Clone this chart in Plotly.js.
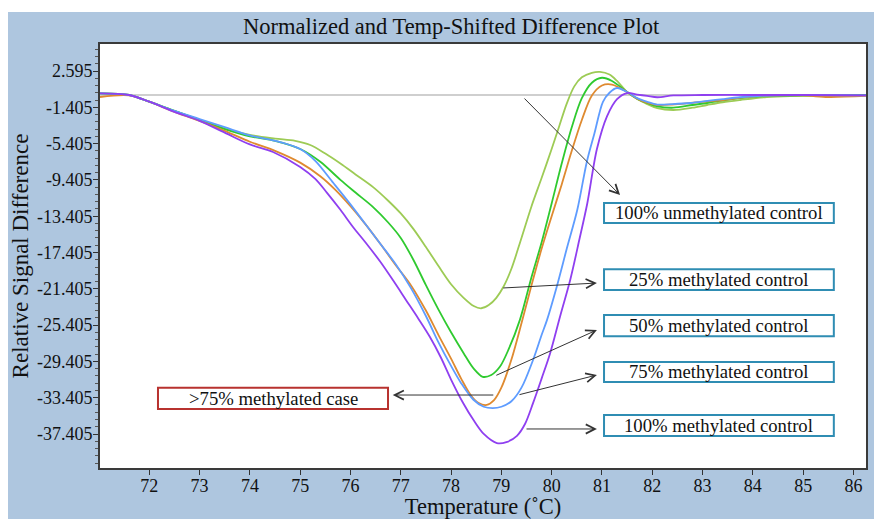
<!DOCTYPE html>
<html>
<head>
<meta charset="utf-8">
<script src="https://cdn.plot.ly/plotly-3.0.1.min.js"></script>
<style>
  html, body { margin: 0; padding: 0; background: #ffffff; width: 874px; height: 519px; overflow: hidden; }
  #chart { position: absolute; left: 8px; top: 12px; width: 866px; height: 507px; }
</style>
</head>
<body>
<div id="chart"></div>
<script>
// ---- data ----
const seriesNames = ["100% unmethylated control", "25% methylated control", "50% methylated control", "75% methylated control", "100% methylated control"];

const tempUnmeth = [71.02, 71.6, 72.0, 72.5, 73.0, 73.5, 74.0, 74.5, 74.9, 75.2, 75.5, 75.8, 76.1, 76.45, 76.75, 77.0, 77.25, 77.5, 77.75, 78.0, 78.25, 78.45, 78.6, 78.75, 78.9, 79.05, 79.2, 79.4, 79.6, 79.8, 80.0, 80.15, 80.3, 80.45, 80.6, 80.8, 80.96, 81.15, 81.3, 81.5, 81.7, 81.9, 82.1, 82.42, 82.8, 83.09, 83.4, 83.75, 84.28, 84.74, 85.33, 86.25];
const valUnmeth  = [0.14, -0.05, -0.79, -1.8, -2.8, -3.75, -4.45, -4.85, -5.1, -5.56, -6.5, -7.6, -8.8, -10.2, -11.7, -13.1, -14.8, -16.8, -18.9, -20.9, -22.4, -23.3, -23.55, -23.2, -22.4, -21.1, -19.2, -15.8, -12.3, -9.2, -6.0, -3.5, -1.0, 0.9, 1.9, 2.4, 2.5, 2.2, 1.5, 0.28, -0.5, -1.05, -1.5, -1.7, -1.45, -1.15, -0.85, -0.6, -0.27, -0.16, -0.15, -0.1];

const temp25 = [71.02, 71.6, 72.0, 72.5, 73.0, 73.5, 74.0, 74.5, 75.0, 75.4, 75.8, 76.1, 76.45, 76.75, 77.0, 77.25, 77.5, 77.75, 78.0, 78.25, 78.45, 78.63, 78.8, 78.97, 79.15, 79.37, 79.6, 79.8, 80.0, 80.2, 80.4, 80.6, 80.8, 81.0, 81.2, 81.5, 81.7, 81.9, 82.1, 82.42, 82.8, 83.09, 83.4, 83.75, 84.28, 85.0, 86.25];
const val25  = [0.14, -0.05, -0.79, -1.8, -2.8, -3.8, -4.6, -5.1, -6.0, -7.4, -9.4, -10.8, -12.4, -14.1, -15.8, -18.2, -21.0, -23.7, -26.2, -28.5, -30.2, -31.1, -30.9, -30.0, -28.0, -24.8, -20.1, -16.3, -12.0, -7.6, -3.6, -0.4, 1.3, 1.85, 1.5, 0.28, -0.45, -0.93, -1.3, -1.45, -1.15, -0.93, -0.65, -0.38, -0.16, -0.1, -0.05];

const temp50 = [71.02, 71.6, 72.0, 72.5, 73.0, 73.5, 74.0, 74.5, 75.0, 75.4, 75.7, 76.0, 76.3, 76.6, 76.9, 77.2, 77.5, 77.75, 78.0, 78.2, 78.4, 78.55, 78.71, 78.85, 79.0, 79.2, 79.4, 79.6, 79.8, 80.0, 80.2, 80.4, 80.6, 80.8, 81.0, 81.2, 81.5, 81.7, 81.9, 82.1, 82.4, 82.76, 83.1, 83.41, 83.75, 84.09, 85.0, 85.5, 86.25];
const val50  = [-0.27, -0.1, -0.79, -1.9, -2.9, -4.0, -5.2, -6.2, -7.5, -9.0, -10.5, -12.3, -14.3, -16.5, -18.8, -21.0, -23.8, -26.5, -29.1, -31.3, -33.2, -34.0, -34.2, -33.7, -32.3, -29.2, -25.2, -21.0, -17.0, -13.4, -9.9, -6.2, -2.8, -0.1, 1.0, 1.1, 0.28, -0.45, -0.9, -1.15, -1.1, -0.93, -0.75, -0.6, -0.35, -0.16, -0.1, -0.27, -0.15];

const temp75 = [71.02, 71.6, 72.0, 72.5, 73.0, 73.5, 74.0, 74.6, 75.0, 75.3, 75.66, 76.0, 76.3, 76.6, 76.9, 77.2, 77.5, 77.75, 78.0, 78.2, 78.44, 78.65, 78.83, 79.0, 79.2, 79.4, 79.63, 79.8, 79.91, 80.1, 80.3, 80.51, 80.7, 80.85, 81.02, 81.15, 81.3, 81.5, 81.7, 81.9, 82.1, 82.4, 82.76, 83.1, 83.41, 83.75, 84.09, 85.0, 86.25];
const val75  = [0.14, -0.05, -0.79, -1.8, -2.7, -3.6, -4.5, -5.23, -6.0, -7.3, -9.75, -12.1, -14.3, -16.5, -18.7, -21.3, -24.4, -27.3, -29.9, -31.8, -33.6, -34.4, -34.55, -34.4, -33.8, -32.3, -29.25, -26.5, -24.8, -21.2, -17.0, -12.7, -7.4, -4.3, -0.8, 0.2, 0.72, 0.28, -0.4, -0.8, -1.1, -1.05, -0.93, -0.7, -0.5, -0.3, -0.16, -0.05, -0.1];

const temp100 = [71.02, 71.6, 72.0, 72.5, 73.0, 73.5, 74.0, 74.46, 75.0, 75.3, 75.53, 75.8, 76.05, 76.3, 76.59, 76.85, 77.1, 77.35, 77.58, 77.8, 78.0, 78.24, 78.45, 78.65, 78.91, 79.1, 79.31, 79.47, 79.63, 79.8, 79.97, 80.17, 80.37, 80.55, 80.71, 80.9, 81.1, 81.3, 81.5, 81.7, 81.9, 82.1, 82.42, 83.0, 84.0, 85.0, 86.25];
const val100  = [0.14, -0.05, -0.79, -1.9, -2.9, -4.2, -5.5, -6.33, -7.98, -9.3, -10.8, -12.7, -14.59, -16.3, -18.4, -20.5, -22.6, -24.7, -26.72, -29.0, -31.4, -33.99, -35.9, -37.4, -38.4, -38.3, -37.6, -36.3, -34.0, -31.3, -28.5, -24.4, -20.4, -16.0, -11.95, -6.0, -2.4, -0.5, 0.17, 0.0, -0.15, -0.3, -0.1, -0.05, -0.05, -0.05, -0.1];

const xTickVals = [72, 73, 74, 75, 76, 77, 78, 79, 80, 81, 82, 83, 84, 85, 86];
const yTickLabels = ["2.595", "-1.405", "-5.405", "-9.405", "-13.405", "-17.405", "-21.405", "-25.405", "-29.405", "-33.405", "-37.405"];

// annotation labels
const caseLabel = ">75% methylated case";

// ---- styling ----
const FONT = "Liberation Serif, Times New Roman, serif";
const colors = ["#9dcb55", "#2fca2f", "#df8a30", "#5e9cff", "#8f3ff0"];
const temps = [tempUnmeth, temp25, temp50, temp75, temp100];
const vals = [valUnmeth, val25, val50, val75, val100];

const traces = seriesNames.map((name, i) => ({
  type: "scatter",
  mode: "lines",
  name: name,
  x: temps[i],
  y: vals[i],
  line: { color: colors[i], width: 1.8, shape: "spline", smoothing: 0.9 },
  hoverinfo: "skip"
}));

// label boxes (paper coordinates) and arrows (data coordinates)
const boxColor = "#2f8db3";
const boxes = [
  { text: seriesNames[0], x0: 0.658, x1: 0.958, y0: 0.578, y1: 0.625, color: boxColor },
  { text: seriesNames[1], x0: 0.658, x1: 0.958, y0: 0.420, y1: 0.469, color: boxColor },
  { text: seriesNames[2], x0: 0.658, x1: 0.958, y0: 0.311, y1: 0.361, color: boxColor },
  { text: seriesNames[3], x0: 0.658, x1: 0.958, y0: 0.203, y1: 0.250, color: boxColor },
  { text: seriesNames[4], x0: 0.658, x1: 0.958, y0: 0.0755, y1: 0.125, color: boxColor },
  { text: caseLabel, x0: 0.0757, x1: 0.376, y0: 0.139, y1: 0.189, color: "#b8322f" }
];

const arrows = [
  { x: 81.36, y: -11.07, ax: 79.43, ay: -0.27 },
  { x: 80.90, y: -20.77, ax: 79.01, ay: -21.32 },
  { x: 80.90, y: -25.94, ax: 78.87, ay: -31.01 },
  { x: 80.90, y: -30.90, ax: 79.33, ay: -33.11 },
  { x: 80.90, y: -36.85, ax: 79.47, ay: -36.85 },
  { x: 76.84, y: -33.11, ax: 78.87, ay: -33.11 }
];

const shapes = boxes.map(b => ({
  type: "rect", xref: "paper", yref: "paper",
  x0: b.x0, x1: b.x1, y0: b.y0, y1: b.y1,
  line: { color: b.color, width: 2 }, fillcolor: "#ffffff", layer: "above"
}));

const annotations = boxes.map(b => ({
  xref: "paper", yref: "paper",
  x: (b.x0 + b.x1) / 2, y: (b.y0 + b.y1) / 2,
  xanchor: "center", yanchor: "middle",
  text: b.text, showarrow: false,
  font: { family: FONT, size: 18.7, color: "#111111" }
})).concat(arrows.map(a => ({
  xref: "x", yref: "y", axref: "x", ayref: "y",
  x: a.x, y: a.y, ax: a.ax, ay: a.ay,
  text: "", showarrow: true, arrowhead: 5, arrowsize: 1.8, arrowwidth: 1,
  arrowcolor: "#333333", standoff: 0, startstandoff: 0
})));

const layout = {
  width: 866, height: 507,
  paper_bgcolor: "#aec6df",
  plot_bgcolor: "#ffffff",
  margin: { l: 92, r: 8, t: 32, b: 51 },
  showlegend: false,
  font: { family: FONT, color: "#111111" },
  title: {
    text: "Normalized and Temp-Shifted Difference Plot",
    font: { family: FONT, size: 22.5, color: "#111111" },
    xref: "container", yref: "container",
    x: 0.5116, y: 0.972, xanchor: "center", yanchor: "middle"
  },
  xaxis: {
    range: [71.02, 86.25],
    tickmode: "array", tickvals: xTickVals,
    ticks: "outside", ticklen: 5, tickwidth: 1, tickcolor: "#333333",
    ticklabelstandoff: -5,
    showline: true, linecolor: "#3a3a3a", linewidth: 2, mirror: true,
    showgrid: false, zeroline: false,
    tickfont: { family: FONT, size: 18, color: "#111111" },
    title: { text: "Temperature (\u02DAC)", font: { family: FONT, size: 22.5, color: "#111111" }, standoff: 25 }
  },
  yaxis: {
    range: [-41.15, 5.57],
    tickmode: "array", tickvals: yTickLabels.map(Number), ticktext: yTickLabels,
    ticks: "outside", ticklen: 5, tickwidth: 1, tickcolor: "#333333",
    ticklabelstandoff: -3,
    minor: { ticks: "outside", ticklen: 3, tickwidth: 1, tickcolor: "#555555", tick0: 2.595, dtick: 0.8 },
    showline: true, linecolor: "#3a3a3a", linewidth: 2, mirror: true,
    showgrid: false,
    zeroline: true, zerolinecolor: "#cfcfcf", zerolinewidth: 2,
    tickfont: { family: FONT, size: 18, color: "#111111" },
    title: { text: "Relative Signal Difference", font: { family: FONT, size: 23, color: "#111111" }, standoff: 8 }
  },
  shapes: shapes,
  annotations: annotations
};

Plotly.newPlot("chart", traces, layout, { staticPlot: true, displayModeBar: false });
</script>
</body>
</html>
